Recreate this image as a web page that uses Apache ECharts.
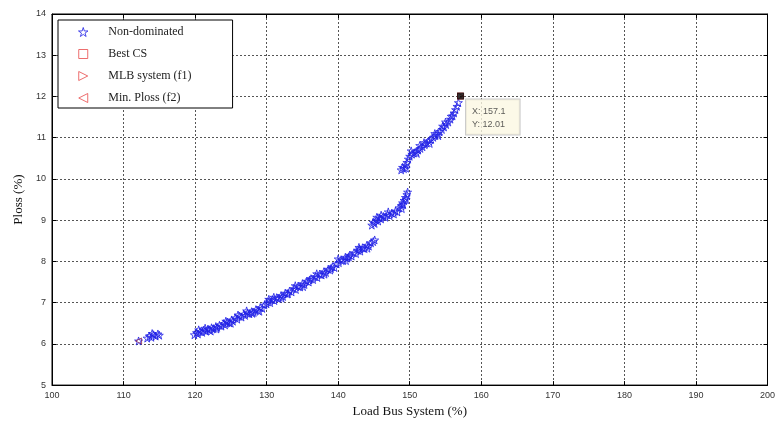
<!DOCTYPE html>
<html><head><meta charset="utf-8">
<script src="https://cdn.jsdelivr.net/npm/echarts@6/dist/echarts.min.js"></script>
<style>html,body{margin:0;padding:0;background:#fff}#c{width:778px;height:423px}</style>
</head><body><div id="c"></div>
<script>
// Data
const xTicks = [100,110,120,130,140,150,160,170,180,190,200];
const yTicks = [5,6,7,8,9,10,11,12,13,14];
const clusterLow = [[112.1,6.07],[113.3,6.14],[113.6,6.19],[113.9,6.16],[114.2,6.22],[114.5,6.19],[114.8,6.24],[115.0,6.21],[114.0,6.25]];
const segmentA = [[119.9,6.22],[120.2,6.27],[120.4,6.24],[120.7,6.30],[121.0,6.28],[121.2,6.33],[121.5,6.31],[121.8,6.36],[122.0,6.34],[122.3,6.39],[122.6,6.37],[122.9,6.42],[123.1,6.40],[123.4,6.45],[123.7,6.43],[124.0,6.49],[124.2,6.46],[124.5,6.53],[124.8,6.51],[125.1,6.58],[125.3,6.55],[125.6,6.63],[125.9,6.60],[126.2,6.67],[126.5,6.65],[126.8,6.72],[127.0,6.69],[127.3,6.75],[127.6,6.73],[127.9,6.78],[128.2,6.76],[128.5,6.83],[128.8,6.81],[129.1,6.88],[129.4,6.86],[129.7,6.94],[130.0,6.97],[130.2,7.02],[130.5,7.00],[130.8,7.07],[131.1,7.05],[131.4,7.12],[131.7,7.10],[132.0,7.17],[132.3,7.15],[132.6,7.23],[132.9,7.21],[133.2,7.28],[133.5,7.26],[133.8,7.34],[134.1,7.32],[134.4,7.40],[134.7,7.38],[135.0,7.46],[135.3,7.44],[135.6,7.52],[135.9,7.50],[136.2,7.58],[136.5,7.56],[136.8,7.63],[137.1,7.61],[137.4,7.69],[137.7,7.67],[138.0,7.75],[138.3,7.73],[138.6,7.81],[138.9,7.79],[139.2,7.87],[139.5,7.85],[139.8,7.94],[140.1,7.97],[140.4,8.04],[140.7,8.02],[141.0,8.10],[141.3,8.08],[141.6,8.15],[141.9,8.13],[142.2,8.21],[142.5,8.19],[142.8,8.27],[143.1,8.25],[143.4,8.33],[143.7,8.31],[144.0,8.39],[144.3,8.37],[144.6,8.45],[144.9,8.48],[145.1,8.52],
  [121.4,6.38],[123.0,6.36],[126.0,6.70],[128.0,6.74],[131.0,7.13],[133.0,7.22],[136.0,7.55],[139.0,7.83],[141.5,8.11],[143.0,8.30],
  [120.5,6.34],[122.2,6.31],[124.3,6.55],[125.0,6.50],[127.2,6.80],[129.0,6.79],[130.3,7.08],[132.1,7.11],[134.0,7.41],[135.1,7.39],[137.0,7.70],[138.1,7.69],[140.0,8.06],[141.1,8.02],[142.9,8.34],[144.1,8.32]];
const segmentB = [[144.7,8.88],[144.9,8.95],[145.1,8.92],[145.3,9.00],[145.6,8.98],[145.8,9.05],[146.0,9.03],[146.3,9.09],[146.6,9.07],[146.9,9.13],[147.2,9.11],[147.5,9.17],[147.8,9.15],[148.0,9.22],[148.3,9.20],[148.5,9.30],[148.8,9.35],[149.0,9.42],[149.2,9.48],[149.4,9.55],[149.6,9.62],[149.7,9.68],[146.0,9.12],[148.9,9.28],[145.4,9.07],[147.0,9.20],[149.1,9.38],[149.5,9.50]];
const segmentC = [[148.8,10.22],[149.0,10.28],[149.2,10.25],[149.4,10.33],[149.6,10.40],[149.8,10.48],[150.0,10.55],[150.3,10.60],[150.6,10.63],[150.9,10.66],[151.2,10.70],[151.5,10.74],[151.8,10.78],[152.1,10.83],[152.4,10.87],[152.7,10.92],[153.0,10.96],[153.3,11.01],[153.6,11.05],[153.9,11.10],[154.2,11.15],[154.5,11.20],[154.8,11.26],[155.1,11.32],[155.4,11.38],[155.7,11.45],[156.0,11.53],[156.2,11.60],[156.4,11.68],[156.6,11.76],[156.8,11.85],
  [150.2,10.68],[151.0,10.62],[152.0,10.88],[153.5,11.10],[154.0,11.05],[155.0,11.38],[149.5,10.26],[151.4,10.81],[152.8,10.86],[154.6,11.28],[155.8,11.52]];
const bestCS = [[157.1,12.01]];
const mlbSystem = [[157.1,12.01]];
const minPloss = [[112.1,6.07]];
const dataTip = [[157.1,12.01]];

const nonDominated = clusterLow.concat(segmentA, segmentB, segmentC);
const starPath = 'path://M50,0 L61,35 L98,35 L68,57 L79,91 L50,70 L21,91 L32,57 L2,35 L39,35 Z';
const squarePath = 'path://M0,0 L10,0 L10,10 L0,10 Z';
const rightTri = 'path://M0,0 L10,5 L0,10 Z';
const leftTri = 'path://M10,0 L0,5 L10,10 Z';
const serif = '"Liberation Serif", "DejaVu Serif", serif';
const sans = '"Liberation Sans", Arial, sans-serif';
const blue = '#1f1fe6';
const red = '#e84a4a';
const hollow = c => ({color: 'rgba(0,0,0,0)', borderColor: c, borderWidth: 1});

const chart = echarts.init(document.getElementById('c'));
const axisCommon = {
  axisLine: {show: true, lineStyle: {color: '#000', width: 1}},
  axisTick: {show: true, inside: true, length: 4, lineStyle: {color: '#000'}},
};
const gridLine = {show: true, lineStyle: {color: '#555', type: [2, 2], width: 1}};
chart.setOption({
  animation: false,
  grid: {left: 52, right: 6, top: 14, bottom: 37, show: true, borderColor: '#000', borderWidth: 1},
  legend: {
    left: 58, top: 20, orient: 'vertical',
    backgroundColor: '#fff', borderColor: '#000', borderWidth: 1,
    padding: [6, 41, 4, 20], itemWidth: 40, itemHeight: 9, itemGap: 10,
    textStyle: {fontFamily: serif, fontSize: 12, color: '#222'},
    data: [
      {name: 'Non-dominated', icon: starPath, itemStyle: hollow(blue)},
      {name: 'Best CS', icon: squarePath, itemStyle: hollow(red)},
      {name: 'MLB system (f1)', icon: rightTri, itemStyle: hollow(red)},
      {name: 'Min. Ploss (f2)', icon: leftTri, itemStyle: hollow(red)}
    ]
  },
  xAxis: [
    Object.assign({type: 'value', min: xTicks[0], max: xTicks[xTicks.length-1], interval: 10, position: 'bottom',
      name: 'Load Bus System (%)', nameLocation: 'middle', nameGap: 19,
      nameTextStyle: {fontFamily: serif, fontSize: 13, color: '#111'},
      axisLabel: {fontFamily: sans, fontSize: 9, color: '#333', margin: 6},
      splitLine: gridLine}, axisCommon),
    Object.assign({type: 'value', min: xTicks[0], max: xTicks[xTicks.length-1], interval: 10, position: 'top',
      axisLabel: {show: false}, splitLine: {show: false}}, axisCommon)
  ],
  yAxis: [
    Object.assign({type: 'value', min: yTicks[0], max: yTicks[yTicks.length-1], interval: 1, position: 'left',
      name: 'Ploss (%)', nameLocation: 'middle', nameGap: 27,
      nameTextStyle: {fontFamily: serif, fontSize: 13, color: '#111'},
      axisLabel: {fontFamily: sans, fontSize: 9, color: '#333', margin: 6},
      splitLine: gridLine}, axisCommon),
    Object.assign({type: 'value', min: yTicks[0], max: yTicks[yTicks.length-1], interval: 1, position: 'right',
      axisLabel: {show: false}, splitLine: {show: false}}, axisCommon)
  ],
  series: [
    {name: 'Non-dominated', type: 'scatter', data: nonDominated, symbol: starPath, symbolSize: 8,
      itemStyle: hollow(blue)},
    {name: 'Best CS', type: 'scatter', data: bestCS, symbol: squarePath, symbolSize: 6, itemStyle: hollow(red)},
    {name: 'MLB system (f1)', type: 'scatter', data: mlbSystem, symbol: rightTri, symbolSize: 6, itemStyle: hollow(red)},
    {name: 'Min. Ploss (f2)', type: 'scatter', data: minPloss, symbol: leftTri, symbolSize: 6,
      itemStyle: hollow('#8a2a5a')},
    {name: 'tip', type: 'scatter', data: dataTip, symbol: squarePath, symbolSize: 7, z: 10,
      itemStyle: {color: '#000'},
      label: {show: true, position: [9, 7], align: 'left', verticalAlign: 'top',
        formatter: p => 'X: ' + p.value[0] + '\nY: ' + p.value[1].toFixed(2),
        fontFamily: sans, fontSize: 9, color: '#333', lineHeight: 13,
        backgroundColor: '#fbf8e2', borderColor: '#bbb', borderWidth: 1, padding: [5, 14, 4, 6]}}
  ]
});
</script></body></html>
